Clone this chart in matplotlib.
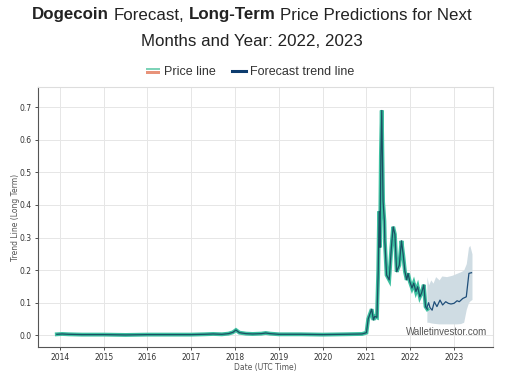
import matplotlib
matplotlib.use("Agg")
import matplotlib.pyplot as plt
from matplotlib.legend_handler import HandlerBase
from matplotlib.lines import Line2D
from matplotlib.patches import Rectangle

# ---------------- data ----------------
price_years = [2013.93, 2014.05, 2014.2, 2014.5, 2015.0, 2015.5, 2016.0, 2016.5, 2017.0,
               2017.3, 2017.5, 2017.7, 2017.85, 2017.95, 2018.02, 2018.1, 2018.25, 2018.4,
               2018.6, 2018.7, 2018.8, 2019.0, 2019.5, 2020.0, 2020.5, 2020.9, 2021.0,
               2021.04, 2021.12, 2021.16, 2021.19, 2021.24, 2021.27, 2021.29, 2021.31,
               2021.33, 2021.35, 2021.37, 2021.38, 2021.41, 2021.42, 2021.46, 2021.52,
               2021.57, 2021.61, 2021.65, 2021.69, 2021.75, 2021.80, 2021.84, 2021.88,
               2021.92, 2021.95, 2021.99, 2022.04, 2022.08, 2022.13, 2022.17, 2022.22,
               2022.26, 2022.31, 2022.35, 2022.39]
price_values = [0.003, 0.004, 0.003, 0.002, 0.002, 0.001, 0.002, 0.002, 0.002,
                0.003, 0.004, 0.003, 0.005, 0.009, 0.016, 0.008, 0.005, 0.004,
                0.005, 0.007, 0.005, 0.003, 0.003, 0.002, 0.003, 0.004, 0.008,
                0.05, 0.08, 0.047, 0.058, 0.055, 0.2, 0.38, 0.27,
                0.55, 0.69, 0.5, 0.41, 0.35, 0.29, 0.185, 0.17,
                0.27, 0.333, 0.31, 0.195, 0.215, 0.29, 0.246, 0.195,
                0.17, 0.19, 0.165, 0.145, 0.16, 0.134, 0.149, 0.118,
                0.13, 0.155, 0.088, 0.08]

forecast_years = [2022.38, 2022.42, 2022.45, 2022.50, 2022.55, 2022.61, 2022.68, 2022.74,
                  2022.81, 2022.87, 2022.93, 2023.00, 2023.07, 2023.12, 2023.20, 2023.28,
                  2023.34, 2023.40]
forecast_values = [0.085, 0.10, 0.085, 0.077, 0.103, 0.088, 0.108, 0.093,
                   0.103, 0.098, 0.096, 0.098, 0.106, 0.103, 0.113, 0.118,
                   0.19, 0.192]

band_years = [2022.38, 2022.42, 2022.47, 2022.52, 2022.58, 2022.66, 2022.72, 2022.83,
              2022.95, 2023.06, 2023.15, 2023.22, 2023.28, 2023.33, 2023.36, 2023.41]
band_upper = [0.18, 0.155, 0.17, 0.16, 0.18, 0.17, 0.182, 0.18,
              0.184, 0.19, 0.195, 0.2, 0.22, 0.27, 0.276, 0.25]
band_lower = [0.04, 0.04, 0.038, 0.037, 0.036, 0.035, 0.035, 0.035,
              0.035, 0.035, 0.036, 0.04, 0.08, 0.10, 0.105, 0.11]

year_ticks = [2014, 2015, 2016, 2017, 2018, 2019, 2020, 2021, 2022, 2023]
y_ticks = [0.0, 0.1, 0.2, 0.3, 0.4, 0.5, 0.6, 0.7]

# ---------------- figure ----------------
fig = plt.figure(figsize=(5.12, 3.75), dpi=100)
ax = fig.add_axes([38 / 512, 1 - 347 / 375, (493 - 38) / 512, (347 - 87) / 375])

ax.fill_between(band_years, band_lower, band_upper, color="#cfdce3", lw=0, zorder=2)
ax.plot(price_years, price_values, color="#3dc0a0", lw=2.8, solid_joinstyle="miter", zorder=3)
ax.plot(price_years, price_values, color="#1b4f63", lw=0.9, zorder=4)
ax.plot(forecast_years, forecast_values, color="#1f4e79", lw=0.9, zorder=4)

ax.set_xlim(2013.5, 2023.89)
ax.set_ylim(-0.036, 0.762)
ax.set_xticks(year_ticks)
ax.set_xticklabels([str(y) for y in year_ticks])
ax.set_yticks(y_ticks)
ax.set_yticklabels([f"{v:.1f}" for v in y_ticks])
ax.tick_params(labelsize=5.5, colors="#333333", length=2.5, width=0.6, pad=2)
ax.grid(True, color="#e6e6e6", lw=0.7, zorder=0)
ax.set_axisbelow(True)
for s in ["left", "bottom"]:
    ax.spines[s].set_color("#555555")
    ax.spines[s].set_linewidth(0.8)
for s in ["top", "right"]:
    ax.spines[s].set_color("#dddddd")
    ax.spines[s].set_linewidth(0.8)

ax.set_ylabel("Trend Line (Long Term)", fontsize=5.5, color="#555555", labelpad=0)
ax.set_xlabel("Date (UTC Time)", fontsize=5.5, color="#555555", labelpad=0.5)

ax.text(405.7 / 512, 1 - 332 / 375, "Walletinvestor.com", transform=fig.transFigure,
        fontsize=7, color="#555555", family="Liberation Sans", va="center", ha="left")

# ---------------- title with mixed weights ----------------
title_font = dict(family="Liberation Sans", fontsize=12.2, color="#222222")
pieces = [("Dogecoin", "bold"), ("Forecast,", "normal"), ("Long-Term", "bold"),
          ("Price Predictions for Next", "normal")]
renderer = fig.canvas.get_renderer()


def text_width(s, w):
    t = fig.text(0, 0, s, weight=w, **title_font)
    wd = t.get_window_extent(renderer=renderer).width
    t.remove()
    return wd


space_w = text_width("x x", "normal") - text_width("xx", "normal")
widths = [text_width(s, w) for s, w in pieces]
total = sum(widths) + space_w * (len(pieces) - 1)
x = 252 - total / 2
for (s, w), wd in zip(pieces, widths):
    fig.text(x / 512, 1 - 15 / 375, s, weight=w, va="center", ha="left", **title_font)
    x += wd + space_w
fig.text(252 / 512, 1 - 42 / 375, "Months and Year: 2022, 2023", ha="center", va="center",
         **title_font)


# ---------------- legend ----------------
class TwoBarHandler(HandlerBase):
    def create_artists(self, legend, orig_handle, xdescent, ydescent, width, height,
                       fontsize, trans):
        h = height * 0.28
        r1 = Rectangle((-xdescent, -ydescent + height * 0.55), width, h,
                       facecolor="#7dd3b8", edgecolor="none", transform=trans)
        r2 = Rectangle((-xdescent, -ydescent + height * 0.12), width, h,
                       facecolor="#e8937a", edgecolor="none", transform=trans)
        return [r1, r2]


price_handle = Rectangle((0, 0), 1, 1)
fc_handle = Line2D([0], [0], color="#0d3c6e", lw=2.2)
fig.legend([price_handle, fc_handle], ["Price line", "Forecast trend line"],
           handler_map={Rectangle: TwoBarHandler()},
           loc="center", bbox_to_anchor=(250 / 512, 1 - 72 / 375), ncol=2, frameon=False,
           prop=dict(family="Liberation Sans", size=9), handlelength=1.1,
           handletextpad=0.35, columnspacing=1.3, labelcolor="#333333")

fig.savefig("out.png", dpi=100)
